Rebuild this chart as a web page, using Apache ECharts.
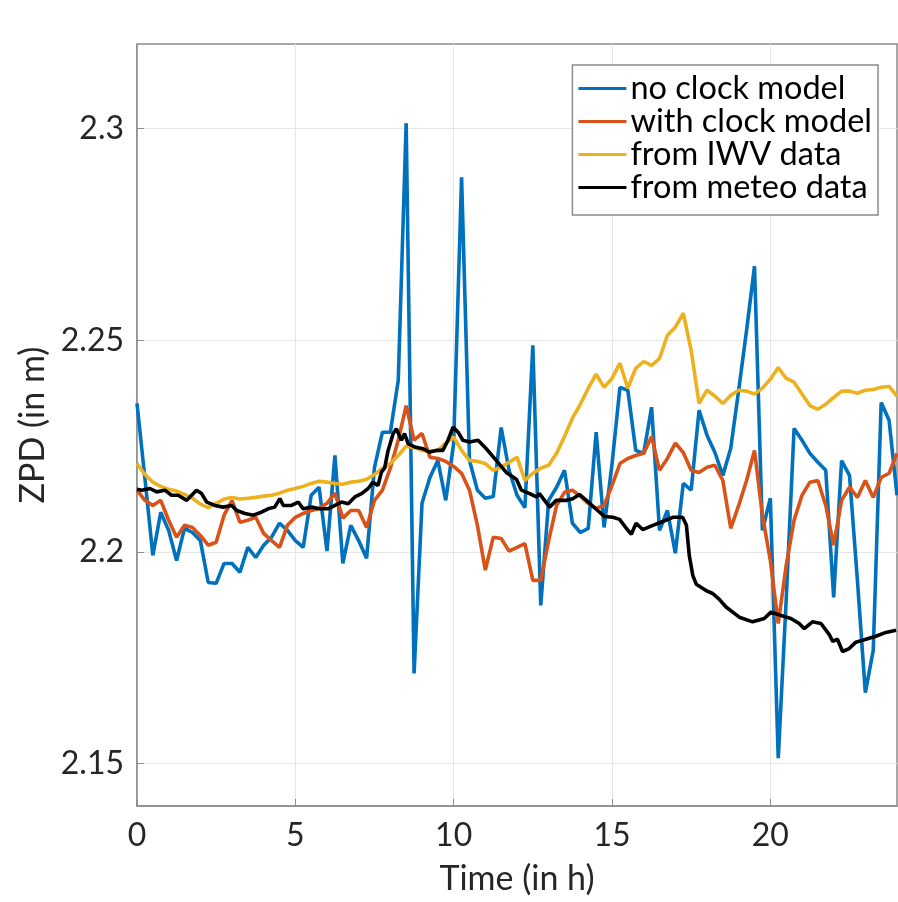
<!DOCTYPE html>
<html>
<head>
<meta charset="utf-8">
<script src="https://cdn.jsdelivr.net/npm/echarts@6/dist/echarts.min.js"></script>
<style>
  html, body { margin: 0; padding: 0; background: #ffffff; }
  #chart { width: 898px; height: 902px; }
</style>
</head>
<body>
<div id="chart"></div>
<script>
// Epoch times (hours) of the 15-minute ZPD solutions
const quarterHours = [
  0, 0.25, 0.5, 0.75, 1, 1.25, 1.5, 1.75, 2, 2.25, 2.5, 2.75,
  3, 3.25, 3.5, 3.75, 4, 4.25, 4.5, 4.75, 5, 5.25, 5.5, 5.75,
  6, 6.25, 6.5, 6.75, 7, 7.25, 7.5, 7.75, 8, 8.25, 8.5, 8.75,
  9, 9.25, 9.5, 9.75, 10, 10.25, 10.5, 10.75, 11, 11.25, 11.5, 11.75,
  12, 12.25, 12.5, 12.75, 13, 13.25, 13.5, 13.75, 14, 14.25, 14.5, 14.75,
  15, 15.25, 15.5, 15.75, 16, 16.25, 16.5, 16.75, 17, 17.25, 17.5, 17.75,
  18, 18.25, 18.5, 18.75, 19, 19.25, 19.5, 19.75, 20, 20.25, 20.5, 20.75,
  21, 21.25, 21.5, 21.75, 22, 22.25, 22.5, 22.75, 23, 23.25, 23.5, 23.75, 24
];

// ZPD (m) estimated without a receiver clock model
const zpdNoClock = [
  2.2351, 2.2174, 2.1992, 2.2094, 2.2051, 2.1980, 2.2056, 2.2046, 2.2027, 2.1928, 2.1926, 2.1973,
  2.1973, 2.1952, 2.2011, 2.1987, 2.2016, 2.2035, 2.2068, 2.2051, 2.2027, 2.2011, 2.2134, 2.2153,
  2.2002, 2.2228, 2.1973, 2.2063, 2.2027, 2.1985, 2.2200, 2.2283, 2.2283, 2.2405, 2.3013, 2.1713,
  2.2115, 2.2176, 2.2216, 2.2122, 2.2257, 2.2885, 2.2216, 2.2146, 2.2127, 2.2131, 2.2294, 2.2193,
  2.2134, 2.2105, 2.2488, 2.1874, 2.2122, 2.2153, 2.2193, 2.2068, 2.2046, 2.2056, 2.2283, 2.2058,
  2.2207, 2.2389, 2.2382, 2.2240, 2.2233, 2.2342, 2.2051, 2.2098, 2.1997, 2.2162, 2.2146, 2.2335,
  2.2276, 2.2235, 2.2181, 2.2245, 2.2382, 2.2524, 2.2675, 2.2051, 2.2127, 2.1513, 2.1886, 2.2292,
  2.2264, 2.2233, 2.2212, 2.2193, 2.1893, 2.2216, 2.2181, 2.1933, 2.1668, 2.1768, 2.2353, 2.2311, 2.2134
];

// ZPD (m) estimated with a receiver clock model
const zpdWithClock = [
  2.2146, 2.2122, 2.2110, 2.2122, 2.2075, 2.2035, 2.2063, 2.2058, 2.2039, 2.2016, 2.2023, 2.2087,
  2.2122, 2.2070, 2.2075, 2.2082, 2.2044, 2.2027, 2.2011, 2.2063, 2.2082, 2.2091, 2.2098, 2.2103,
  2.2115, 2.2139, 2.2080, 2.2098, 2.2098, 2.2058, 2.2122, 2.2146, 2.2198, 2.2264, 2.2346, 2.2264,
  2.2280, 2.2224, 2.2221, 2.2214, 2.2202, 2.2186, 2.2146, 2.2063, 2.1957, 2.2035, 2.2032, 2.2002,
  2.2011, 2.2020, 2.1933, 2.1933, 2.2027, 2.2110, 2.2141, 2.2146, 2.2132, 2.2115, 2.2103, 2.2110,
  2.2157, 2.2209, 2.2221, 2.2228, 2.2233, 2.2273, 2.2193, 2.2221, 2.2257, 2.2235, 2.2193, 2.2188,
  2.2200, 2.2205, 2.2169, 2.2056, 2.2110, 2.2169, 2.2240, 2.2087, 2.1980, 2.1831, 2.1968, 2.2075,
  2.2134, 2.2165, 2.2169, 2.2110, 2.2016, 2.2122, 2.2153, 2.2129, 2.2169, 2.2129, 2.2176, 2.2186, 2.2233
];

// ZPD (m) derived from the water vapour radiometer (IWV)
const zpdIwv = [
  2.2209, 2.2183, 2.2165, 2.2155, 2.2148, 2.2144, 2.2136, 2.2127, 2.2113, 2.2105, 2.2115, 2.2125,
  2.2129, 2.2125, 2.2127, 2.2129, 2.2132, 2.2134, 2.2139, 2.2146, 2.2150, 2.2155, 2.2162, 2.2167,
  2.2165, 2.2162, 2.2160, 2.2165, 2.2167, 2.2172, 2.2183, 2.2198, 2.2209, 2.2228, 2.2250, 2.2247,
  2.2240, 2.2238, 2.2240, 2.2257, 2.2271, 2.2240, 2.2216, 2.2214, 2.2209, 2.2193, 2.2200, 2.2212,
  2.2224, 2.2169, 2.2186, 2.2198, 2.2205, 2.2233, 2.2273, 2.2316, 2.2349, 2.2387, 2.2420, 2.2389,
  2.2410, 2.2446, 2.2387, 2.2434, 2.2450, 2.2441, 2.2457, 2.2512, 2.2531, 2.2564, 2.2476, 2.2351,
  2.2382, 2.2368, 2.2351, 2.2370, 2.2382, 2.2380, 2.2373, 2.2387, 2.2408, 2.2436, 2.2410, 2.2401,
  2.2373, 2.2346, 2.2337, 2.2349, 2.2365, 2.2380, 2.2380, 2.2375, 2.2382, 2.2384, 2.2389, 2.2391, 2.2368
];

// ZPD (m) from surface meteo data, denser sampling
const meteoHours = [
  0.00, 0.15, 0.41, 0.62, 0.88, 1.09, 1.30, 1.57, 1.78, 1.88, 2.04, 2.20,
  2.46, 2.72, 2.99, 3.15, 3.41, 3.67, 3.93, 4.14, 4.35, 4.51, 4.62, 4.88,
  5.09, 5.25, 5.51, 5.77, 6.03, 6.25, 6.46, 6.67, 6.88, 7.09, 7.30, 7.45,
  7.61, 7.72, 7.82, 7.93, 8.09, 8.19, 8.35, 8.45, 8.56, 8.77, 9.03, 9.24,
  9.45, 9.66, 9.82, 9.98, 10.14, 10.29, 10.50, 10.77, 11.03, 11.35, 11.66, 11.98,
  12.14, 12.40, 12.61, 12.71, 13.03, 13.24, 13.56, 13.76, 13.97, 14.19, 14.50, 14.76,
  15.03, 15.24, 15.45, 15.61, 15.76, 15.97, 16.29, 16.60, 16.92, 17.23, 17.35, 17.44,
  17.55, 17.66, 17.97, 18.18, 18.39, 18.60, 19.02, 19.44, 19.81, 20.02, 20.34, 20.65,
  20.91, 21.07, 21.33, 21.60, 21.86, 21.97, 22.12, 22.28, 22.49, 22.70, 23.02, 23.33,
  23.65, 23.97
];
const zpdMeteo = [
  2.2148, 2.2146, 2.2150, 2.2142, 2.2146, 2.2134, 2.2134, 2.2122, 2.2138, 2.2146, 2.2138, 2.2118,
  2.2110, 2.2106, 2.2110, 2.2098, 2.2091, 2.2087, 2.2094, 2.2102, 2.2106, 2.2126, 2.2110, 2.2110,
  2.2118, 2.2102, 2.2106, 2.2102, 2.2102, 2.2110, 2.2118, 2.2114, 2.2130, 2.2138, 2.2150, 2.2165,
  2.2157, 2.2189, 2.2198, 2.2240, 2.2280, 2.2291, 2.2264, 2.2280, 2.2256, 2.2248, 2.2244, 2.2236,
  2.2240, 2.2240, 2.2264, 2.2295, 2.2283, 2.2264, 2.2260, 2.2264, 2.2244, 2.2216, 2.2188, 2.2172,
  2.2146, 2.2138, 2.2130, 2.2138, 2.2106, 2.2122, 2.2122, 2.2126, 2.2136, 2.2122, 2.2101, 2.2084,
  2.2082, 2.2077, 2.2056, 2.2042, 2.2068, 2.2053, 2.2063, 2.2072, 2.2082, 2.2082, 2.2063, 2.1992,
  2.1945, 2.1924, 2.1909, 2.1902, 2.1888, 2.1870, 2.1846, 2.1835, 2.1843, 2.1858, 2.1850, 2.1843,
  2.1831, 2.1819, 2.1835, 2.1831, 2.1805, 2.1789, 2.1794, 2.1765, 2.1772, 2.1787, 2.1794, 2.1801,
  2.1810, 2.1815
];

const timeTicks = [0, 5, 10, 15, 20];
const zpdTicks = [2.15, 2.2, 2.25, 2.3];
const seriesNames = ['no clock model', 'with clock model', 'from IWV data', 'from meteo data'];
const seriesColors = ['#0072BD', '#D95319', '#EDB120', '#000000'];

const FONT = 'Lato';
const TEXT = '#262626';
const FRAME = '#8c8c8c';
const GRID = '#e6e6e6';

function pairUp(xs, ys) {
  return xs.map((x, i) => [x, ys[i]]);
}

const seriesData = [
  pairUp(quarterHours, zpdNoClock),
  pairUp(quarterHours, zpdWithClock),
  pairUp(quarterHours, zpdIwv),
  pairUp(meteoHours, zpdMeteo)
];

const chart = echarts.init(document.getElementById('chart'), null, { renderer: 'canvas' });

chart.setOption({
  animation: false,
  backgroundColor: '#ffffff',
  grid: {
    left: 137, right: 1, top: 44, bottom: 96,
    show: true, borderColor: FRAME, borderWidth: 1.5, backgroundColor: 'transparent'
  },
  legend: {
    orient: 'vertical',
    right: 20, top: 65,
    padding: [7, 6, 11, 6],
    itemGap: 0,
    itemWidth: 48, itemHeight: 3,
    icon: 'rect',
    backgroundColor: '#ffffff',
    borderColor: FRAME, borderWidth: 1.5,
    textStyle: { fontFamily: FONT, fontSize: 32.5, color: '#000000', lineHeight: 33, padding: [0, 0, 0, -1] },
    data: seriesNames
  },
  xAxis: {
    type: 'value', min: 0, max: 24,
    name: 'Time (in h)', nameLocation: 'middle', nameGap: 56,
    nameTextStyle: { fontFamily: FONT, fontSize: 34, color: TEXT },
    axisLine: { show: true, lineStyle: { color: FRAME, width: 1.5 } },
    axisTick: { show: true, inside: true, length: 7, customValues: timeTicks, lineStyle: { color: FRAME } },
    axisLabel: { customValues: timeTicks, fontFamily: FONT, fontSize: 32, color: TEXT, margin: 14 },
    splitLine: { show: true, lineStyle: { color: GRID, width: 1 } }
  },
  yAxis: {
    type: 'value', min: 2.14, max: 2.32,
    name: 'ZPD (in m)', nameLocation: 'middle', nameGap: 86,
    nameTextStyle: { fontFamily: FONT, fontSize: 34, color: TEXT },
    axisLine: { show: true, lineStyle: { color: FRAME, width: 1.5 } },
    axisTick: { show: true, inside: true, length: 7, customValues: zpdTicks, lineStyle: { color: FRAME } },
    axisLabel: { customValues: zpdTicks, fontFamily: FONT, fontSize: 32, color: TEXT, margin: 13 },
    splitLine: { show: true, lineStyle: { color: GRID, width: 1 } }
  },
  series: seriesNames.map((name, i) => ({
    name: name,
    type: 'line',
    data: seriesData[i],
    showSymbol: false,
    symbol: 'none',
    color: seriesColors[i],
    lineStyle: { color: seriesColors[i], width: 3.6 },
    emphasis: { disabled: true },
    silent: true,
    z: 2 + i
  }))
});
</script>
</body>
</html>
